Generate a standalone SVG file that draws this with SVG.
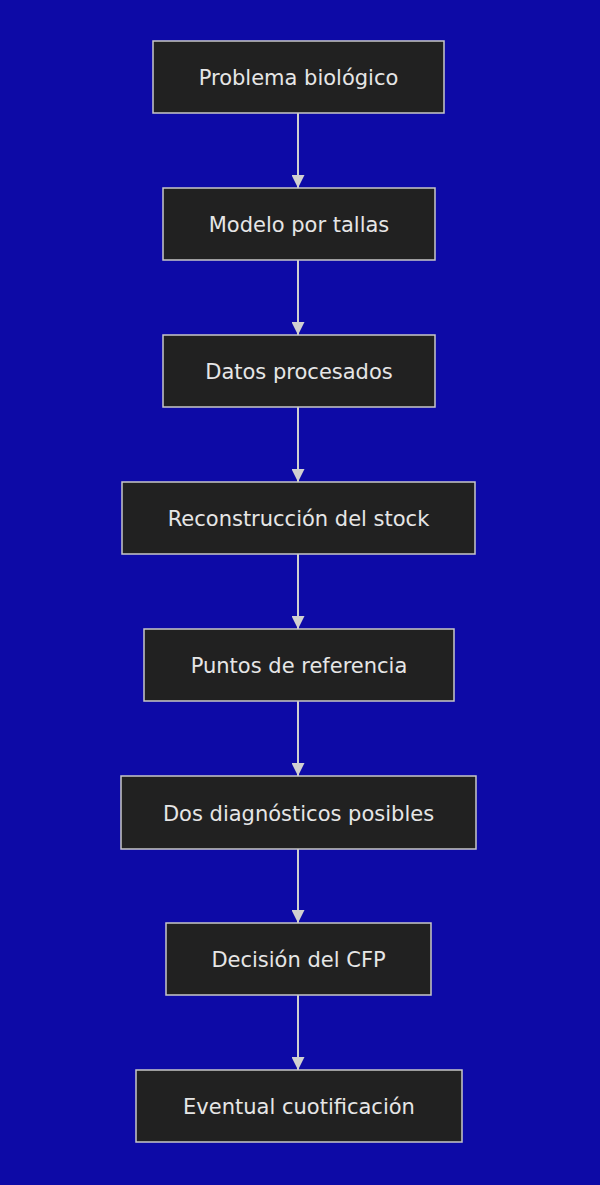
<svg xmlns="http://www.w3.org/2000/svg" width="600" height="1185" viewBox="0 0 600 1185">
<style>
.box{fill:#212121;stroke:#c8c8c8;stroke-width:1.5}
.lbl{font-family:"DejaVu Sans","Open Sans",sans-serif;font-size:21px;fill:#e6e6e6;text-anchor:middle;dominant-baseline:central}
.edge{stroke:#cfcfcf;stroke-width:2;fill:none;marker-end:url(#arr)}
</style>
<defs>
<marker id="arr" viewBox="0 0 10 10" refX="10" refY="5" markerWidth="6.5" markerHeight="6.5" markerUnits="strokeWidth" orient="auto">
<path d="M0,0 L10,5 L0,10 z" fill="#d0d0d0"/>
</marker>
</defs>
<rect width="600" height="1185" fill="#0d0aa6"/>
<g id="connectors">
<line class="edge" x1="298" y1="113" x2="298" y2="188"/>
<line class="edge" x1="298" y1="260" x2="298" y2="335"/>
<line class="edge" x1="298" y1="407" x2="298" y2="482"/>
<line class="edge" x1="298" y1="554" x2="298" y2="629"/>
<line class="edge" x1="298" y1="701" x2="298" y2="776"/>
<line class="edge" x1="298" y1="849" x2="298" y2="923"/>
<line class="edge" x1="298" y1="995" x2="298" y2="1070"/>
</g>
<g id="n1"><rect class="box" x="153" y="41" width="291" height="72"/><text class="lbl" x="298.5" y="78">Problema biológico</text></g>
<g id="n2"><rect class="box" x="163" y="188" width="272" height="72"/><text class="lbl" x="299" y="225">Modelo por tallas</text></g>
<g id="n3"><rect class="box" x="163" y="335" width="272" height="72"/><text class="lbl" x="299" y="372">Datos procesados</text></g>
<g id="n4"><rect class="box" x="122" y="482" width="353" height="72"/><text class="lbl" x="298.5" y="519">Reconstrucción del stock</text></g>
<g id="n5"><rect class="box" x="144" y="629" width="310" height="72"/><text class="lbl" x="299" y="666">Puntos de referencia</text></g>
<g id="n6"><rect class="box" x="121" y="776" width="355" height="73"/><text class="lbl" x="298.5" y="813.5">Dos diagnósticos posibles</text></g>
<g id="n7"><rect class="box" x="166" y="923" width="265" height="72"/><text class="lbl" x="298.5" y="960">Decisión del CFP</text></g>
<g id="n8"><rect class="box" x="136" y="1070" width="326" height="72"/><text class="lbl" x="299" y="1107">Eventual cuotificación</text></g>
</svg>
